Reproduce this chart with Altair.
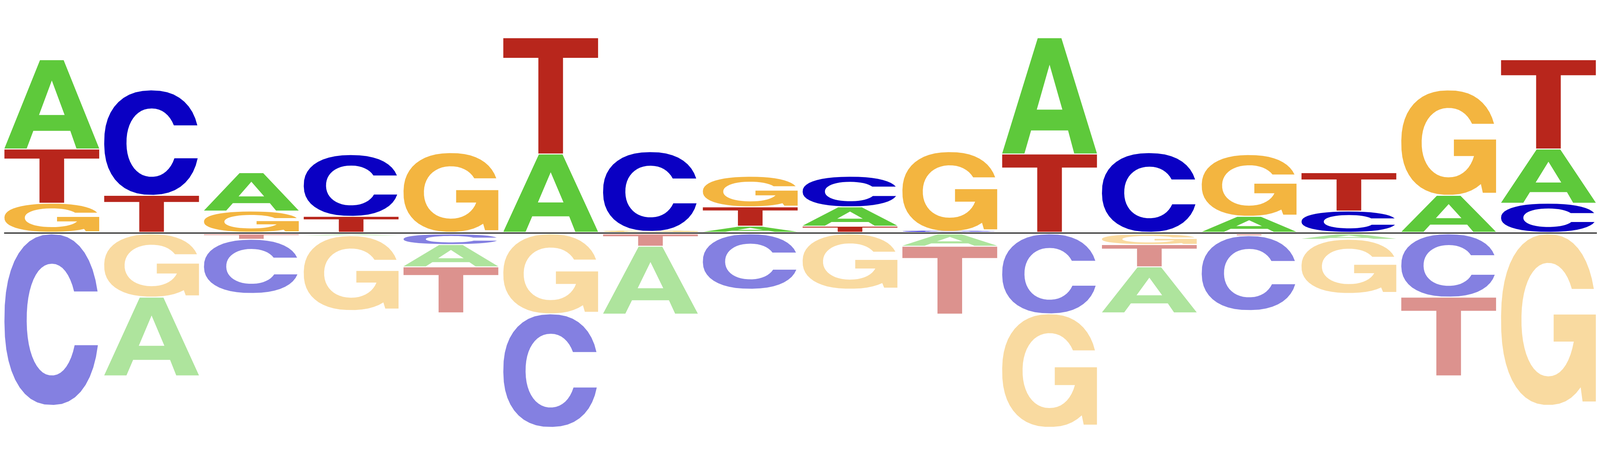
import math

import altair as alt
import pandas as pd

# sequence logo, 16 positions; heights in bits
# above the line: listed from the baseline upwards
up_letters = [
    ["G", "T", "A"], ["T", "C"], ["G", "A"], ["T", "C"],
    ["G"], ["A", "T"], ["G", "C"], ["A", "T", "G"],
    ["T", "A", "C"], ["C", "G"], ["T", "A"], ["C"],
    ["A", "G"], ["C", "T"], ["A", "G"], ["C", "A", "T"],
]
up_heights = [
    [0.91, 1.65, 2.72], [1.15, 3.21], [0.67, 1.17], [0.51, 1.88],
    [2.45], [2.41, 3.54], [0.05, 2.43], [0.21, 0.59, 0.93],
    [0.21, 0.59, 0.93], [0.05, 2.43], [2.41, 3.54], [2.45],
    [0.51, 1.88], [0.67, 1.17], [1.15, 3.21], [0.91, 1.65, 2.72],
]
# below the line: listed from the baseline downwards
down_letters = [
    ["C"], ["G", "A"], ["T", "C"], ["A", "G"],
    ["C", "A", "T"], ["G", "C"], ["T", "A"], ["C"],
    ["G"], ["A", "T"], ["C", "G"], ["G", "T", "A"],
    ["T", "C"], ["A", "G"], ["C", "T"], ["G"],
]
down_heights = [
    [5.25], [1.95, 2.40], [0.19, 1.65], [0.08, 2.28],
    [0.35, 0.68, 1.40], [2.46, 3.46], [0.40, 2.07], [1.71],
    [1.71], [0.40, 2.07], [2.46, 3.46], [0.35, 0.68, 1.40],
    [0.08, 2.28], [0.19, 1.65], [1.95, 2.40], [5.25],
]

colors = {"A": "#5EC93B", "C": "#0A00C3", "G": "#F3B540", "T": "#B8261C"}

W, H = 4792, 1192
COL_PX = 300
Y_TOP = 5.95
PX_PER_BIT = 587 / Y_TOP
GAP = 0.015       # space between stacked letters
BASE_GAP = 0.038  # space between the line and the first letter
X_IN, X_OUT = 0.013, 0.963


def pale(hex_color, t=0.5):
    r, g, b = (int(hex_color[k:k + 2], 16) for k in (1, 3, 5))
    return "#%02x%02x%02x" % tuple(round(c + (255 - c) * t) for c in (r, g, b))


# rounded curve used for the bowls of C and G (y points down)
def bowl(a, b, n, t0, t1, steps=40):
    pts = []
    for k in range(steps + 1):
        t = t0 + (t1 - t0) * k / steps
        c, s = math.cos(t), math.sin(t)
        pts.append((a * math.copysign(abs(c) ** (2 / n), c),
                    b * math.copysign(abs(s) ** (2 / n), s)))
    return pts


def t_at_v(b, n, v):
    return math.asin(min(1.0, (abs(v) / b) ** (n / 2)))


def t_at_u(a, n, u):
    return math.acos(min(1.0, (abs(u) / a) ** (n / 2)))


def outline(letter):
    """Contours of a letter in a [-1, 1] box."""
    if letter == "T":
        return [[(-1, -1), (1, -1), (1, -0.66), (0.26, -0.66), (0.26, 1),
                 (-0.26, 1), (-0.26, -0.66), (-1, -0.66)]]
    if letter == "A":
        return [[(-0.25, -1), (0.25, -1), (1, 1), (0.52, 1), (0.39, 0.6),
                 (-0.39, 0.6), (-0.53, 1), (-1, 1)],
                [(0, -0.54), (-0.27, 0.24), (0.27, 0.24)]]
    if letter == "C":
        n_o, n_i, a_i, b_i = 2.3, 2.15, 0.53, 0.655
        outer = bowl(1, 1, n_o, -t_at_v(1, n_o, -0.33),
                     -2 * math.pi + t_at_v(1, n_o, 0.30))
        inner = bowl(a_i, b_i, n_i, -2 * math.pi + t_at_v(b_i, n_i, 0.30),
                     -t_at_v(b_i, n_i, -0.33))
        return [outer + inner]
    # G
    n_o, n_i, a_i, b_i = 2.3, 2.15, 0.57, 0.665
    outer = bowl(1, 1, n_o, -t_at_v(1, n_o, -0.36),
                 -2 * math.pi + t_at_u(1, n_o, 0.68))
    bar = [(0.72, 0.96), (1, 0.96), (1, -0.06), (0.11, -0.06), (0.11, 0.257)]
    inner = bowl(a_i, b_i, n_i, -2 * math.pi + t_at_v(b_i, n_i, 0.257),
                 -t_at_v(b_i, n_i, -0.36))
    return [outer + bar + inner]


def glyph_path(letter, sx, sy):
    parts = []
    for contour in outline(letter):
        parts.append("M" + " L".join(f"{u * sx:.4f},{v * sy:.4f}" for u, v in contour) + " Z")
    return " ".join(parts)


rows = []
for sign, letters, heights, fade in [
    (1, up_letters, up_heights, 0.0),
    (-1, down_letters, down_heights, 0.5),
]:
    for i, (col_l, col_h) in enumerate(zip(letters, heights)):
        cum = 0.0
        for j, (l, h) in enumerate(zip(col_l, col_h)):
            lo = cum + (BASE_GAP if j == 0 else GAP)
            hi = max(cum + h - GAP, lo + 0.03)
            cum += h
            w_px = (X_OUT - X_IN) * COL_PX
            h_px = (hi - lo) * PX_PER_BIT
            side = max(w_px, h_px)
            rows.append({
                "pos": i + 1,
                "letter": l,
                "x": i + (X_IN + X_OUT) / 2,
                "y": sign * (lo + hi) / 2,
                "shape": glyph_path(l, w_px / side, h_px / side),
                "size": side ** 2,
                "fill": pale(colors[l], fade),
            })

df = pd.DataFrame(rows)

x_scale = alt.Scale(domain=[0, W / COL_PX], nice=False, zero=False)
y_scale = alt.Scale(domain=[-(H - 587) / PX_PER_BIT, Y_TOP], nice=False, zero=False)

letters = alt.Chart(df).mark_point(filled=True, opacity=1, strokeWidth=0).encode(
    x=alt.X("x:Q", scale=x_scale, axis=None),
    y=alt.Y("y:Q", scale=y_scale, axis=None),
    shape=alt.Shape("shape:N", scale=None),
    size=alt.Size("size:Q", scale=None),
    color=alt.Color("fill:N", scale=None),
)

baseline = alt.Chart(pd.DataFrame({"v": [0]})).mark_rule(
    color="black", strokeWidth=3
).encode(
    y=alt.Y("v:Q", scale=y_scale, axis=None),
    x=alt.value(3),
    x2=alt.value(W),
)

chart = alt.layer(letters, baseline).properties(
    width=W,
    height=H,
    padding=0,
    autosize=alt.AutoSizeParams(type="none"),
    background="white",
).configure_view(strokeOpacity=0)

chart.save("out.html", embed_options={"renderer": "svg", "actions": False})
